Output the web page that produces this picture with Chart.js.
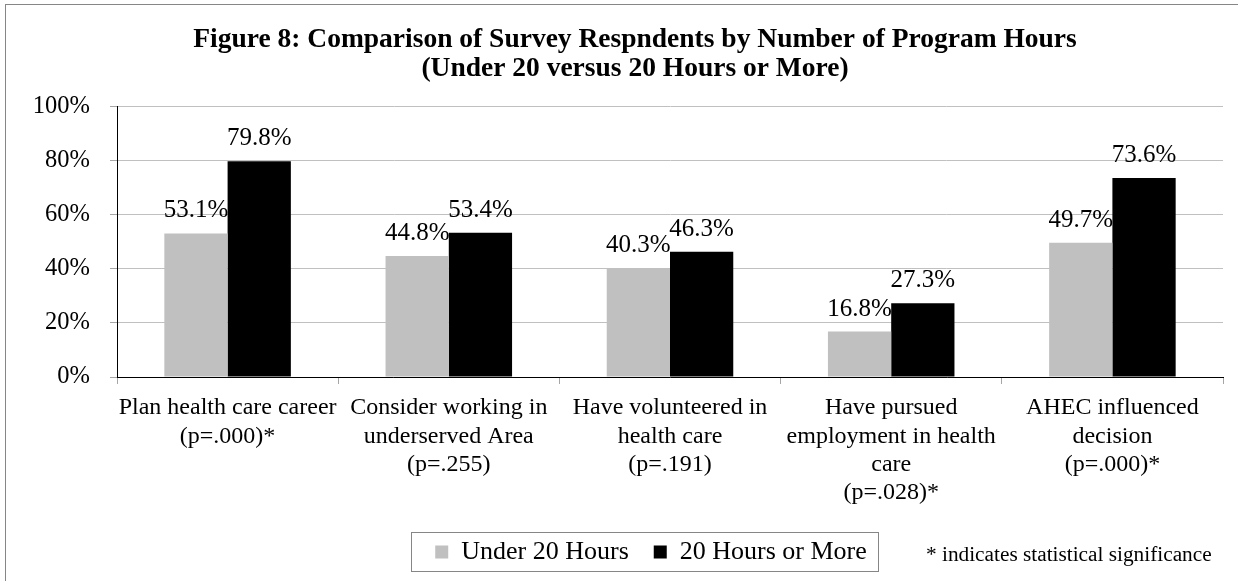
<!DOCTYPE html>
<html><head><meta charset="utf-8">
<script src="https://cdn.jsdelivr.net/npm/chart.js@4.4.1/dist/chart.umd.min.js"></script>
<style>
html,body{margin:0;padding:0;background:#fff;overflow:hidden;width:1238px;height:581px;}
#frame{position:absolute;left:5px;top:4px;width:1258px;height:640px;border:1px solid #868686;background:#fff;}
#c{position:absolute;left:0;top:0;}
</style></head><body>
<div id="frame"><canvas id="c" width="1258" height="576" style="width:1258px;height:576px"></canvas></div>
<script>
// ---- data ----
const categories = [
  ['Plan health care career', '(p=.000)*'],
  ['Consider working in', 'underserved Area', '(p=.255)'],
  ['Have volunteered in', 'health care', '(p=.191)'],
  ['Have pursued', 'employment in health', 'care', '(p=.028)*'],
  ['AHEC influenced', 'decision', '(p=.000)*']
];
const under20Hours = [53.1, 44.8, 40.3, 16.8, 49.7];
const twentyOrMoreHours = [79.8, 53.4, 46.3, 27.3, 73.6];
const seriesNames = ['Under 20 Hours', '20 Hours or More'];
const titleLines = ['Figure 8: Comparison of Survey Respndents by Number of Program Hours', '(Under 20 versus 20 Hours or More)'];
const footnote = '* indicates statistical significance';
const yMin = 0, yMax = 100, yStep = 20;

// ---- style ----
const FONT = '"Liberation Serif","Times New Roman",Times,serif';
const TITLE_SHIFT = 20.5;
const LEGEND_SHIFT = 36.5;
Chart.defaults.color = '#000';
Chart.defaults.font.family = FONT;

const extras = {
  id: 'extras',
  afterLayout(chart) {
    const lg = chart.legend;
    if (lg) { lg.left += LEGEND_SHIFT; lg.right += LEGEND_SHIFT; }
    const tb = chart.titleBlock;
    if (tb) { tb.left += TITLE_SHIFT; tb.right += TITLE_SHIFT; }
  },
  afterDatasetsDraw(chart) {
    const ctx = chart.ctx;
    ctx.save();
    ctx.font = '25px ' + FONT;
    ctx.fillStyle = '#000';
    ctx.textAlign = 'center';
    ctx.textBaseline = 'alphabetic';
    chart.data.datasets.forEach((ds, i) => {
      const meta = chart.getDatasetMeta(i);
      meta.data.forEach((bar, j) => {
        ctx.fillText(ds.data[j].toFixed(1) + '%', bar.x, bar.y - 16);
      });
    });
    ctx.restore();
  },
  afterDraw(chart) {
    const ctx = chart.ctx;
    const lg = chart.legend;
    const p = lg.options.labels.padding;
    const start = (lg.left + lg.right) / 2 - (lg.lineWidths[0] - p) / 2;
    const end = start + lg.lineWidths[0] - p;
    const cy = lg.top + p + 13;
    ctx.save();
    ctx.strokeStyle = '#868686';
    ctx.lineWidth = 1;
    ctx.strokeRect(Math.round(start - 24) + 0.5, Math.round(cy - 20) + 0.5, Math.round(end - start + 35), 39);
    ctx.font = '21.3px ' + FONT;
    ctx.fillStyle = '#000';
    ctx.textAlign = 'left';
    ctx.textBaseline = 'middle';
    ctx.fillText(footnote, 920, 550);
    ctx.restore();
  }
};

new Chart(document.getElementById('c'), {
  type: 'bar',
  data: {
    labels: categories,
    datasets: [
      { label: seriesNames[0], data: under20Hours, backgroundColor: '#c0c0c0', borderWidth: 0,
        categoryPercentage: 0.572, barPercentage: 1.0 },
      { label: seriesNames[1], data: twentyOrMoreHours, backgroundColor: '#000000', borderWidth: 0,
        categoryPercentage: 0.572, barPercentage: 1.0 }
    ]
  },
  options: {
    responsive: false,
    animation: false,
    devicePixelRatio: 1,
    layout: { padding: { left: 0, right: 41, top: 0, bottom: 6 } },
    plugins: {
      title: {
        display: true, text: titleLines, color: '#000',
        font: { family: FONT, size: 27.5, weight: 'bold', lineHeight: 1.03 },
        padding: { top: 21, bottom: 24 }
      },
      legend: {
        display: true, position: 'bottom',
        labels: { boxWidth: 13, boxHeight: 13, padding: 25, color: '#000',
          font: { family: FONT, size: 26 } }
      },
      tooltip: { enabled: false }
    },
    scales: {
      x: {
        grid: { display: true, drawOnChartArea: false, drawTicks: true, tickLength: 7, tickColor: '#a6a6a6', offset: true },
        border: { display: true, color: '#000', width: 1 },
        ticks: { color: '#000', font: { family: FONT, size: 24, lineHeight: 1.18 }, padding: 10,
          maxRotation: 0, minRotation: 0, autoSkip: false },
        afterFit(scale) { scale.height = 137; }
      },
      y: {
        min: yMin, max: yMax,
        grid: { color: '#c0c0c0', tickColor: '#a6a6a6', tickLength: 7, lineWidth: 1 },
        border: { display: true, color: '#000', width: 1 },
        ticks: { stepSize: yStep, color: '#000', padding: 20,
          font: { family: FONT, size: 24.5 },
          callback: v => v + '%' },
        afterFit(scale) { scale.width = 111; }
      }
    }
  },
  plugins: [extras]
});
</script>
</body></html>
